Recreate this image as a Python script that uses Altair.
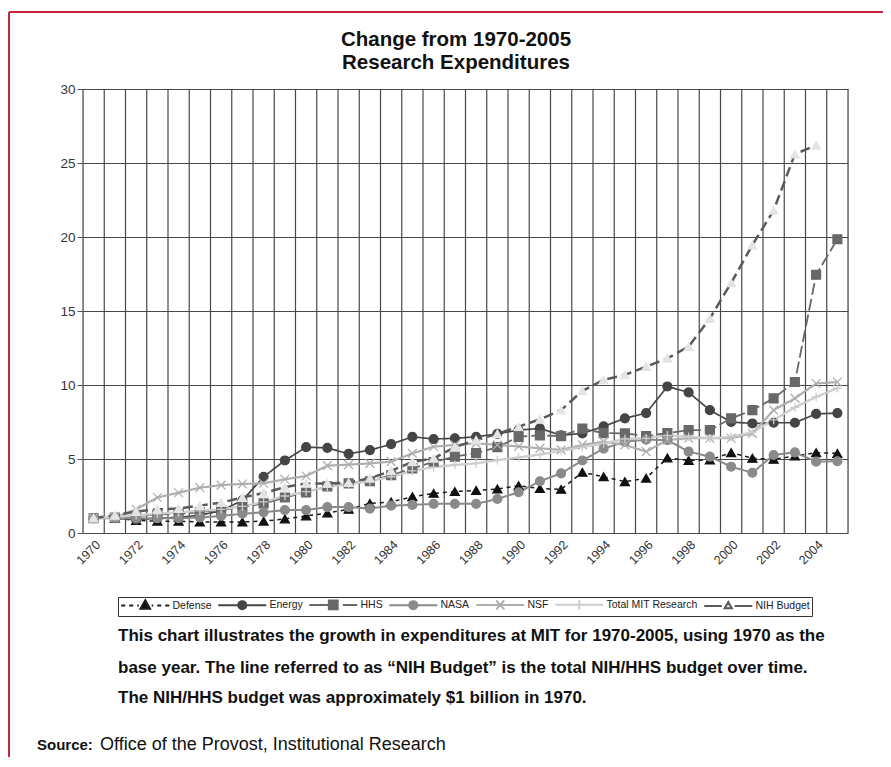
import altair as alt
import pandas as pd

FONT = "Liberation Sans"

YEARS = list(range(1970, 2006))
SERIES = ["Defense", "Energy", "HHS", "NASA", "NSF", "Total MIT Research", "NIH Budget"]

DEFENSE = [1.0, 1.0, 0.85, 0.8, 0.8, 0.75, 0.75, 0.75, 0.8, 0.95,
           1.15, 1.35, 1.6, 2.0, 2.1, 2.45, 2.68, 2.8, 2.88, 2.97,
           3.2, 3.0, 2.95, 4.1, 3.8, 3.47, 3.7, 5.07, 4.9, 4.93,
           5.43, 5.05, 4.98, 5.2, 5.43, 5.38]
ENERGY = [1.0, 1.0, 0.9, 1.0, 1.05, 1.2, 1.5, 2.2, 3.8, 4.9,
          5.8, 5.75, 5.35, 5.6, 6.0, 6.5, 6.35, 6.4, 6.5, 6.7,
          6.95, 7.07, 6.6, 6.73, 7.2, 7.75, 8.1, 9.9, 9.5, 8.3,
          7.5, 7.4, 7.45, 7.45, 8.05, 8.1]
HHS = [1.0, 1.05, 1.15, 1.25, 1.3, 1.4, 1.55, 1.75, 2.0, 2.4,
       2.75, 3.15, 3.35, 3.5, 3.9, 4.37, 4.8, 5.16, 5.4, 5.8,
       6.5, 6.6, 6.55, 7.05, 6.75, 6.73, 6.55, 6.75, 6.95, 6.95,
       7.75, 8.3, 9.1, 10.2, 17.45, 19.85]
NASA = [1.0, 1.0, 1.0, 1.0, 1.0, 1.05, 1.15, 1.3, 1.4, 1.55,
        1.55, 1.75, 1.75, 1.65, 1.85, 1.9, 1.97, 1.97, 1.97, 2.3,
        2.75, 3.5, 4.03, 4.9, 5.7, 6.17, 6.3, 6.28, 5.5, 5.16,
        4.48, 4.07, 5.27, 5.45, 4.82, 4.85]
NSF = [1.0, 1.05, 1.6, 2.4, 2.72, 3.06, 3.24, 3.31, 3.36, 3.63,
       3.85, 4.55, 4.62, 4.7, 4.82, 5.38, 5.83, 5.95, 6.06, 5.95,
       5.85, 5.72, 5.62, 5.95, 6.17, 5.95, 5.5, 6.28, 6.4, 6.4,
       6.4, 6.73, 8.3, 9.1, 10.1, 10.2]
TOTAL = [1.0, 1.1, 1.2, 1.3, 1.4, 1.5, 1.6, 1.8, 2.1, 2.5,
         2.8, 3.1, 3.3, 3.5, 3.8, 4.2, 4.45, 4.6, 4.7, 4.93,
         5.1, 5.3, 5.55, 5.8, 6.05, 6.35, 6.4, 6.6, 6.5, 6.4,
         6.5, 6.8, 7.64, 8.49, 9.2, 9.78]
NIH = [1.0, 1.2, 1.45, 1.6, 1.65, 1.85, 2.05, 2.4, 2.7, 3.1,
       3.35, 3.35, 3.4, 3.7, 4.2, 4.8, 5.05, 5.8, 6.28, 6.7,
       7.18, 7.68, 8.31, 9.6, 10.35, 10.68, 11.24, 11.8, 12.6, 14.5,
       16.9, 19.46, 21.8, 25.6, 26.2, None]

TITLE_LINES = ["Change from 1970-2005", "Research Expenditures"]
CAPTION_LINES = [
    "This chart illustrates the growth in expenditures at MIT for 1970-2005, using 1970 as the",
    "base year. The line referred to as \u201cNIH Budget\u201d is the total NIH/HHS budget over time.",
    "The NIH/HHS budget was approximately $1 billion in 1970.",
]
SOURCE_LABEL = "Source:"
SOURCE_TEXT = "Office of the Provost, Institutional Research"

# styles
LINE_COLORS = ["#1c1c1c", "#454545", "#686868", "#8a8a8a", "#aeaeae", "#cdcdcd", "#5a5a5a"]
MARKER_FILL = ["#111111", "#454545", "#686868", "#8a8a8a", "#aeaeae", "#cdcdcd", "#e4e4e4"]
MARKER_STROKE = ["#111111", "#454545", "#686868", "#8a8a8a", "#aeaeae", "#cdcdcd", "#e4e4e4"]
DASHES = [[4, 4], [1, 0], [12, 4], [1, 0], [1, 0], [1, 0], [10, 5]]
WIDTHS = [1.5, 2.5, 3, 2.5, 2.5, 1.5, 3.5]
X_PATH = "M-1,-1L1,1M-1,1L1,-1"
PLUS_PATH = "M-1,0L1,0M0,-1L0,1"
MARKER_SHAPES = ["triangle-up", "circle", "square", "circle", X_PATH, PLUS_PATH, "triangle-up"]
MARKER_SIZES = [80, 75, 100, 75, 80, 55, 45]

# legend symbols: unit = 4px, path spans -1..11 units, marker centred at 5
LEGEND_SHAPES = [
    "M-1,0L0,0M1,0L2,0M3,0L3.4,0M6.6,0L7,0M8,0L9,0M10,0L11,0M5,-1.3L6.2,0.8L3.8,0.8Z",
    "M-1,0L11,0M4,0A1,1,0,1,0,6,0A1,1,0,1,0,4,0Z",
    "M-1,0L5,0M7.4,0L11,0M3.9,-1.1L6.1,-1.1L6.1,1.1L3.9,1.1Z",
    "M-1,0L11,0M4,0A1,1,0,1,0,6,0A1,1,0,1,0,4,0Z",
    "M-1,0L11,0M4,-1.1L6,1.1M4,1.1L6,-1.1",
    "M-1,0L11,0M5,-1.2L5,1.2",
    "M-1,0L3.4,0M6.6,0L11,0M5,-1L5.9,0.6L4.1,0.6Z",
]

rows = []
for name, vals in zip(SERIES, [DEFENSE, ENERGY, HHS, NASA, NSF, TOTAL, NIH]):
    for yr, v in zip(YEARS, vals):
        if v is not None:
            rows.append({"year": yr, "series": name, "value": v})
df = pd.DataFrame(rows)
grid_df = pd.DataFrame({"b": [y - 0.5 for y in YEARS] + [YEARS[-1] + 0.5]})

X_SCALE = alt.Scale(domain=[1969.5, 2005.5], nice=False, zero=False)
Y_SCALE = alt.Scale(domain=[0, 30], nice=False)
X_AXIS = alt.Axis(values=YEARS[::2], format="d", labelAngle=315, labelAlign="right",
                  labelBaseline="top", grid=False, ticks=False, domain=False,
                  labelFontSize=12.5, labelColor="#333", labelFont=FONT, labelPadding=5,
                  labelOverlap=False, title=None)
Y_AXIS = alt.Axis(values=[0, 5, 10, 15, 20, 25, 30], grid=True, gridColor="#484848",
                  gridWidth=1.1, ticks=True, tickSize=6, tickColor="#555", domain=False,
                  labelFontSize=13.5, labelColor="#333", labelFont=FONT, labelPadding=2,
                  title=None)

def sc(rng):
    return alt.Scale(domain=SERIES, range=rng)

base = alt.Chart(df)
X = alt.X("year:Q", scale=X_SCALE, axis=X_AXIS)
Y = alt.Y("value:Q", scale=Y_SCALE, axis=Y_AXIS)

grid = alt.Chart(grid_df).mark_rule(color="#484848", strokeWidth=1.2).encode(
    x=alt.X("b:Q", scale=X_SCALE, axis=X_AXIS))

lines = base.mark_line(strokeCap="butt").encode(
    x=X, y=Y,
    color=alt.Color("series:N", scale=sc(LINE_COLORS), legend=None),
    strokeDash=alt.StrokeDash("series:N", scale=sc(DASHES), legend=None),
    size=alt.Size("series:N", scale=sc(WIDTHS), legend=None),
)

points = base.mark_point(filled=True, opacity=1, strokeWidth=1.3).encode(
    x=X, y=Y,
    fill=alt.Fill("series:N", scale=sc(MARKER_FILL), legend=None),
    stroke=alt.Stroke("series:N", scale=sc(MARKER_STROKE), legend=None),
    shape=alt.Shape("series:N", scale=sc(MARKER_SHAPES), legend=None),
    size=alt.Size("series:N", scale=sc(MARKER_SIZES), legend=None),
)

LEG = alt.Legend(title=None, orient="none", legendX=35, legendY=508, direction="horizontal",
                 symbolSize=64, symbolStrokeWidth=2, labelFontSize=10.5, labelFont=FONT,
                 labelColor="#222", labelOffset=42, columnPadding=2, padding=2,
                 strokeColor="#333", fillColor="white", symbolOpacity=1)

legend_layer = base.transform_filter("false").mark_point(filled=True, opacity=1).encode(
    x=X, y=Y,
    fill=alt.Fill("series:N", scale=sc(MARKER_FILL), legend=LEG),
    stroke=alt.Stroke("series:N", scale=sc(LINE_COLORS), legend=LEG),
    shape=alt.Shape("series:N", scale=sc(LEGEND_SHAPES), legend=LEG),
)

def txt(s, x, y, size, weight="normal", align="left", color="#111"):
    return alt.Chart(alt.Data(values=[{}])).mark_text(
        text=s, align=align, baseline="middle", fontSize=size, fontWeight=weight,
        font=FONT, color=color).encode(x=alt.value(x), y=alt.value(y))

RED = "#c4263f"
red_top = alt.Chart(alt.Data(values=[{}])).mark_rule(color=RED, strokeWidth=2).encode(
    x=alt.value(-74), x2=alt.value(830), y=alt.value(-77))
red_left = alt.Chart(alt.Data(values=[{}])).mark_rule(color=RED, strokeWidth=2).encode(
    x=alt.value(-74), y=alt.value(-77), y2=alt.value(690))

texts = [
    txt(TITLE_LINES[0], 373, -49, 20.5, "bold", "center"),
    txt(TITLE_LINES[1], 373, -26, 20.5, "bold", "center"),
    txt(CAPTION_LINES[0], 35, 547, 17, "bold"),
    txt(CAPTION_LINES[1], 35, 579, 17, "bold"),
    txt(CAPTION_LINES[2], 35, 609, 17, "bold"),
    txt(SOURCE_LABEL, -46, 656, 15, "bold"),
    txt(SOURCE_TEXT, 17, 656, 18, "normal"),
]

chart = alt.layer(red_top, red_left, grid, lines, points, legend_layer, *texts).resolve_scale(
    color="independent", fill="independent", stroke="independent",
    shape="independent", size="independent", strokeDash="independent",
).properties(
    width=765, height=444,
    padding={"left": 75, "top": 81, "right": 35, "bottom": 224},
    autosize=alt.AutoSizeParams(type="none"),
).configure_view(stroke="#3c3c3c", strokeWidth=1.5).configure(background="white")

chart.save("out.html", embed_options={"renderer": "svg", "actions": False})
